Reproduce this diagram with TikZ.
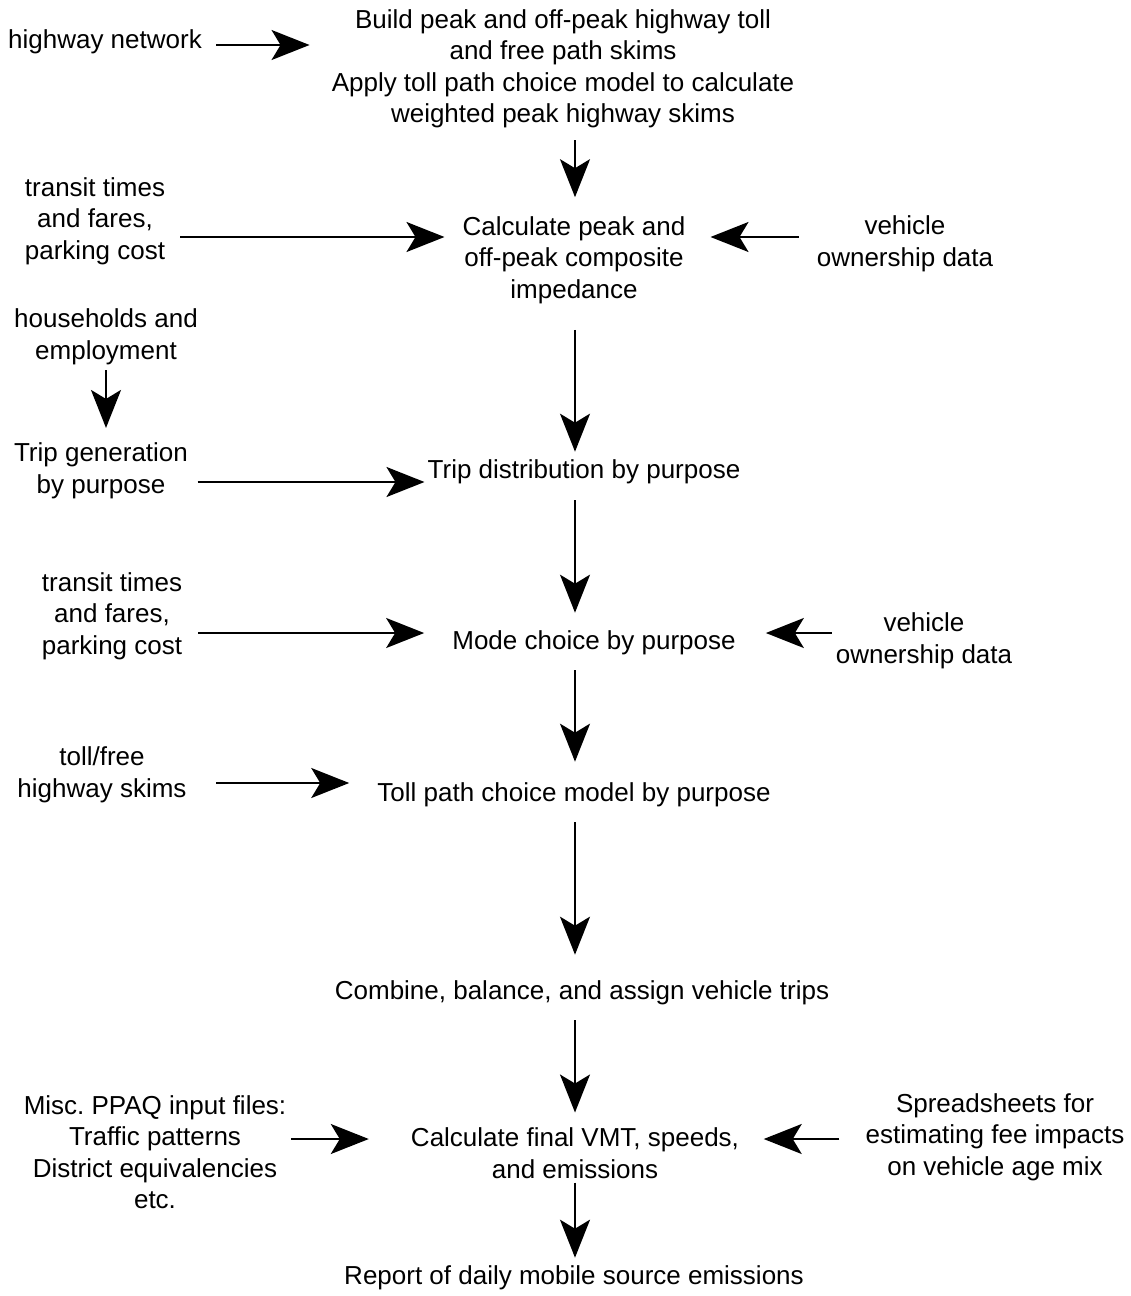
\documentclass[tikz,border=0pt]{standalone}
\usepackage{fontspec}
\setmainfont{Liberation Sans}
\usetikzlibrary{arrows.meta}
\frenchspacing
\tikzset{
  lbl/.style={align=center, inner sep=0pt, font=\fontsize{26}{31.5}\selectfont},
  arr/.style={-{Stealth[length=38pt, width=30pt, inset=9pt]}, line width=2pt}
}

\begin{document}
\begin{tikzpicture}[x=1pt, y=-1pt]
\useasboundingbox (0,0) rectangle (1131,1296);
\coordinate (axis) at (575,0);

\node[lbl] (hnet) at (105,42) {highway network};
\node[lbl] (skims) at (563,69) {Build peak and off-peak highway toll\\and free path skims\\Apply toll path choice model to calculate\\weighted peak highway skims};
\node[lbl] (trans1) at (95,221) {transit times\\and fares,\\parking cost};
\node[lbl] (imped) at (574,260) {Calculate peak and\\off-peak composite\\impedance};
\node[lbl] (veh1) at (905,244) {vehicle\\ownership data};
\node[lbl] (house) at (106,337) {households and\\employment};
\node[lbl] (tripgen) at (101,471) {Trip generation\\by purpose};
\node[lbl] (dist) at (584,472) {Trip distribution by purpose};
\node[lbl] (trans2) at (112,616) {transit times\\and fares,\\parking cost};
\node[lbl] (mode) at (594,643) {Mode choice by purpose};
\node[lbl] (veh2) at (924,641) {vehicle\\ownership data};
\node[lbl] (tollfree) at (102,775) {toll/free\\highway skims};
\node[lbl] (tollpath) at (574,795) {Toll path choice model by purpose};
\node[lbl] (combine) at (582,993) {Combine, balance, and assign vehicle trips};
\node[lbl] (misc) at (155,1152) {Misc. PPAQ input files:\\Traffic patterns\\District equivalencies\\etc.};
\node[lbl] (final) at (575,1153) {Calculate final VMT, speeds,\\and emissions};
\node[lbl] (spread) at (995,1137) {Spreadsheets for\\estimating fee impacts\\on vehicle age mix};
\node[lbl] (report) at (574,1278) {Report of daily mobile source emissions};

\draw[arr, shorten <=14pt, shorten >=22pt] ([yshift=-3pt]hnet.east) -- ([yshift=-3pt]hnet.east -| skims.west);
\draw[arr, shorten <=11.5pt, shorten >=19pt] (skims.south -| axis) -- (imped.north -| axis);
\draw[arr, shorten <=15pt, shorten >=18pt] ([yshift=-16pt]trans1.east) -- ([yshift=-16pt]trans1.east -| imped.west);
\draw[arr, shorten <=18pt, shorten >=25pt] ([yshift=7pt]veh1.west) -- ([yshift=7pt]veh1.west -| imped.east);
\draw[arr, shorten <=26pt, shorten >=8pt] (imped.south -| axis) -- (dist.north -| axis);
\draw[arr, shorten <=5pt, shorten >=15pt] (house.south) -- (house.south |- tripgen.north);
\draw[arr, shorten <=9.5pt, shorten >=3pt] ([yshift=-11pt]tripgen.east) -- ([yshift=-11pt]tripgen.east -| dist.west);
\draw[arr, shorten <=16pt, shorten >=18pt] (dist.south -| axis) -- (mode.north -| axis);
\draw[arr, shorten <=16pt, shorten >=28pt] ([yshift=-17pt]trans2.east) -- ([yshift=-17pt]trans2.east -| mode.west);
\draw[arr, shorten <=4pt, shorten >=30pt] ([yshift=8pt]veh2.west) -- ([yshift=8pt]veh2.west -| mode.east);
\draw[arr, shorten <=15pt, shorten >=21pt] (mode.south -| axis) -- (tollpath.north -| axis);
\draw[arr, shorten <=29.5pt, shorten >=28pt] ([yshift=-8pt]tollfree.east) -- ([yshift=-8pt]tollfree.east -| tollpath.west);
\draw[arr, shorten <=15pt, shorten >=26pt] (tollpath.south -| axis) -- (combine.north -| axis);
\draw[arr, shorten <=15pt, shorten >=15pt] (combine.south -| axis) -- (final.north -| axis);
\draw[arr, shorten <=5pt, shorten >=42pt] ([yshift=13pt]misc.east) -- ([yshift=13pt]misc.east -| final.west);
\draw[arr, shorten <=26pt, shorten >=24.5pt] ([yshift=-2pt]spread.west) -- ([yshift=-2pt]spread.west -| final.east);
\draw[arr, shorten <=4pt, shorten >=8pt] (final.south -| axis) -- (report.north -| axis);
\end{tikzpicture}
\end{document}
